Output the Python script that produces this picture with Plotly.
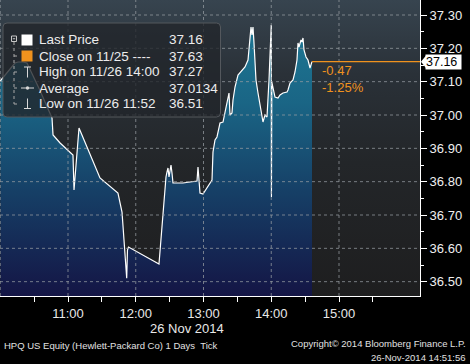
import plotly.graph_objects as go

# ---------------- data ----------------
DATE = "2014-11-26"
times = [
    "10:00:00", "10:06:00", "10:13:00", "10:15:45", "10:20:00", "10:23:40", "10:35:00",
    "10:45:50", "10:46:45", "10:53:00", "11:04:25", "11:05:20", "11:09:45", "11:28:20",
    "11:44:15", "11:47:50", "11:49:36", "11:52:00", "11:52:40", "11:53:35", "12:20:35",
    "12:24:08", "12:26:47", "12:27:41", "12:28:34", "12:29:27", "12:31:13", "12:32:06",
    "12:32:59", "12:41:51", "12:54:15", "12:55:08", "12:56:54", "12:59:33", "13:07:32",
    "13:08:25", "13:10:11", "13:11:57", "13:14:37", "13:17:16", "13:20:49", "13:22:35",
    "13:23:28", "13:25:14", "13:26:08", "13:27:54", "13:30:33", "13:34:06", "13:36:45",
    "13:39:25", "13:41:11", "13:42:04", "13:42:57", "13:43:50", "13:44:43", "13:45:37",
    "13:46:29", "13:48:16", "13:51:49", "13:52:41", "13:54:28", "13:56:14", "13:58:01",
    "14:00:00", "14:00:10", "14:00:30", "14:03:19", "14:05:59", "14:07:45", "14:10:25",
    "14:13:57", "14:14:50", "14:16:37", "14:19:16", "14:21:02", "14:22:48", "14:23:41",
    "14:24:35", "14:26:21", "14:27:14", "14:28:07", "14:29:00", "14:30:47", "14:32:33",
    "14:34:19", "14:36:05",
]
prices = [
    37.102, 37.126, 37.156, 37.159, 37.159, 37.156, 37.075,
    36.991, 36.940, 36.916, 36.880, 36.775, 36.961, 36.811,
    36.766, 36.709, 36.625, 36.510, 36.595, 36.604, 36.553,
    36.706, 36.814, 36.829, 36.841, 36.814, 36.850, 36.826,
    36.796, 36.796, 36.802, 36.844, 36.766, 36.763, 36.805,
    36.889, 36.925, 36.934, 36.976, 36.979, 37.036, 37.066,
    37.000, 37.006, 37.045, 37.084, 37.120, 37.135, 37.144,
    37.165, 37.225, 37.264, 37.240, 37.264, 37.216, 37.144,
    37.105, 37.066, 37.000, 36.979, 37.000, 36.994, 37.105,
    37.270, 36.754, 37.099, 37.054, 37.051, 37.060, 37.066,
    37.069, 37.075, 37.096, 37.105, 37.129, 37.165, 37.216,
    37.204, 37.225, 37.219, 37.231, 37.195, 37.174, 37.165,
    37.141, 37.160,
]
prev_close = 37.63

y_ticks = [36.5, 36.6, 36.7, 36.8, 36.9, 37.0, 37.1, 37.2, 37.3]
y_tick_labels = ["36.50", "36.60", "36.70", "36.80", "36.90", "37.00", "37.10", "37.20", "37.30"]
y_minor = [36.55, 36.65, 36.75, 36.85, 36.95, 37.05, 37.15, 37.25]
x_ticks = ["11:00", "12:00", "13:00", "14:00", "15:00"]
x_minor = ["10:30", "11:30", "12:30", "13:30", "14:30", "15:30"]
grid_hours = ["10:00", "11:00", "12:00", "13:00", "14:00", "15:00"]

legend_labels = ["Last Price", "Close on 11/25 ----", "High on 11/26 14:00", "Average", "Low on 11/26 11:52"]
legend_values = ["37.16", "37.63", "37.27", "37.0134", "36.51"]

date_label = "26 Nov 2014"
footer_left = "HPQ US Equity (Hewlett-Packard Co) 1 Days  Tick"
footer_right1 = "Copyright\u00a9 2014 Bloomberg Finance L.P."
footer_right2 = "26-Nov-2014 14:51:56"

# ---------------- layout helpers ----------------
W, H = 470, 364
ML, MR, MT, MB = 0, 50, 0, 68
PW, PH = W - ML - MR, H - MT - MB

def px(x):
    return (x - ML) / PW

def py(y):
    return 1 - (y - MT) / PH

x_vals = [f"{DATE} {t}" for t in times]
x_range = [f"{DATE} 09:59:47", f"{DATE} 16:11:44"]
y_range = [36.457, 37.345]
FONT = "Liberation Sans"

fig = go.Figure()

# background gradient of the plot area
fig.add_trace(go.Scatter(
    x=[x_range[0], x_range[1], x_range[1], x_range[0], x_range[0]],
    y=[y_range[0], y_range[0], y_range[1], y_range[1], y_range[0]],
    mode="none", fill="toself",
    fillgradient=dict(type="vertical",
                      colorscale=[[0, "#1e1e1f"], [0.45, "#232629"], [0.75, "#2a3138"], [1, "#37444f"]],
                      start=y_range[0], stop=y_range[1]),
    hoverinfo="skip", showlegend=False,
))

# baseline for the area fill
fig.add_trace(go.Scatter(
    x=[x_vals[0], x_vals[-1]], y=[y_range[0], y_range[0]],
    mode="lines", line=dict(width=0, color="rgba(0,0,0,0)"),
    hoverinfo="skip", showlegend=False,
))

# price line with gradient area
fig.add_trace(go.Scatter(
    x=x_vals, y=prices, mode="lines",
    line=dict(color="white", width=1.2),
    fill="tonexty",
    fillgradient=dict(type="vertical",
                      colorscale=[[0, "#141545"], [0.35, "#163f66"], [0.65, "#1a6585"], [1, "#1f7d98"]],
                      start=y_range[0], stop=y_range[1]),
    showlegend=False,
))

# grid lines (above the fills)
grid_line = dict(color="rgba(150,156,162,0.75)", width=1, dash="dot")
for v in y_ticks:
    fig.add_shape(type="line", xref="paper", yref="y", x0=0, x1=1, y0=v, y1=v,
                  line=grid_line, layer="above")
for h in grid_hours:
    fig.add_shape(type="line", xref="x", yref="paper", x0=f"{DATE} {h}", x1=f"{DATE} {h}",
                  y0=0, y1=1, line=grid_line, layer="above")

# last price line (orange)
ORANGE = "#f0921e"
fig.add_shape(type="line", xref="x", yref="y", x0=x_vals[-1], x1=x_range[1],
              y0=prices[-1], y1=prices[-1], line=dict(color=ORANGE, width=1.2), layer="above")

change = prices[-1] - prev_close
pct = change / prev_close * 100
fig.add_annotation(x=x_vals[-1], y=prices[-1], xref="x", yref="y", text=f"{change:.2f}",
                   showarrow=False, xanchor="left", yanchor="middle", xshift=8, yshift=-9,
                   font=dict(family=FONT, size=13, color=ORANGE))
fig.add_annotation(x=x_vals[-1], y=prices[-1], xref="x", yref="y", text=f"{pct:.2f}%",
                   showarrow=False, xanchor="left", yanchor="middle", xshift=8, yshift=-26,
                   font=dict(family=FONT, size=13, color=ORANGE))

# last-price tag on the axis
fig.add_annotation(x=1, y=prices[-1], xref="paper", yref="y", text=f"{prices[-1]:.2f} ",
                   showarrow=False, xanchor="left", yanchor="middle", xshift=5,
                   bgcolor="white", borderpad=0,
                   font=dict(family=FONT, size=12.5, color="black"))
fig.add_shape(type="path", xref="paper", yref="paper",
              path=f"M {px(421)},{py(61.7)} L {px(426)},{py(55.5)} L {px(426)},{py(67.9)} Z",
              fillcolor="white", line=dict(width=0), layer="above")

# ---------------- legend box ----------------
x0, x1, y0, y1, r = 3, 220.5, 23, 117, 4
rx, ry = r / PW, r / PH
X0, X1, Y0, Y1 = px(x0), px(x1), py(y0), py(y1)
path = (f"M {X0+rx},{Y0} L {X1-rx},{Y0} Q {X1},{Y0} {X1},{Y0-ry} "
        f"L {X1},{Y1+ry} Q {X1},{Y1} {X1-rx},{Y1} L {X0+rx},{Y1} Q {X0},{Y1} {X0},{Y1+ry} "
        f"L {X0},{Y0-ry} Q {X0},{Y0} {X0+rx},{Y0} Z")
fig.add_shape(type="path", xref="paper", yref="paper", path=path,
              fillcolor="rgba(34,38,43,0.8)", line=dict(color="#54585d", width=1), layer="above")

ICON = "#d8d8d8"
def seg(xa, ya, xb, yb, color=ICON, width=1, dash="solid"):
    fig.add_shape(type="line", xref="paper", yref="paper", x0=px(xa), y0=py(ya), x1=px(xb), y1=py(yb),
                  line=dict(color=color, width=width, dash=dash), layer="above")

def box(xa, ya, xb, yb, fill, line_color=None):
    fig.add_shape(type="rect", xref="paper", yref="paper", x0=px(xa), y0=py(ya), x1=px(xb), y1=py(yb),
                  fillcolor=fill, line=dict(color=line_color or fill, width=1 if line_color else 0),
                  layer="above")

row_y = [40, 56, 72, 88, 104]
# tree collapse icon and dotted tree
box(11.5, 36, 16.5, 41.5, "rgba(0,0,0,0)", "#c8c8c8")
seg(12.8, 38.75, 15.2, 38.75, "#c8c8c8")
seg(14, 42, 14, 104, "#a8a8a8", 1, "dot")
for yy in row_y[1:]:
    seg(14, yy, 19.5, yy, "#a8a8a8", 1, "dot")
# icons
box(21.5, 34.5, 32.5, 45.5, "white")
box(21.5, 50.5, 32.5, 61.5, ORANGE)
seg(24, 67, 31, 67)
seg(27.5, 67, 27.5, 77.5)
seg(21, 88, 34, 88)
fig.add_shape(type="circle", xref="paper", yref="paper", x0=px(25.8), y0=py(86.3), x1=px(29.2), y1=py(89.7),
              fillcolor=ICON, line=dict(width=0), layer="above")
seg(27.5, 98.5, 27.5, 108.5)
seg(24, 108.5, 31, 108.5)

for lab, val, yy in zip(legend_labels, legend_values, row_y):
    fig.add_annotation(x=px(37), y=py(yy), xref="paper", yref="paper", text=lab, showarrow=False,
                       xanchor="left", yanchor="middle",
                       font=dict(family=FONT, size=13.5, color="#ececec"))
    fig.add_annotation(x=px(166.5), y=py(yy), xref="paper", yref="paper", text=val, showarrow=False,
                       xanchor="left", yanchor="middle",
                       font=dict(family=FONT, size=13.5, color="#ececec"))

# ---------------- bottom texts ----------------
fig.add_annotation(x=px(187), y=py(328), xref="paper", yref="paper", text=date_label, showarrow=False,
                   xanchor="center", yanchor="middle", font=dict(family=FONT, size=13, color="#e8e8e8"))
fig.add_annotation(x=px(2), y=py(345), xref="paper", yref="paper", text=footer_left, showarrow=False,
                   xanchor="left", yanchor="middle", font=dict(family=FONT, size=9.5, color="#e0e0e0"))
fig.add_annotation(x=px(468), y=py(344), xref="paper", yref="paper", text=footer_right1, showarrow=False,
                   xanchor="right", yanchor="middle", font=dict(family=FONT, size=9.5, color="#e0e0e0"))
fig.add_annotation(x=px(468), y=py(357), xref="paper", yref="paper", text=footer_right2, showarrow=False,
                   xanchor="right", yanchor="middle", font=dict(family=FONT, size=9.5, color="#e0e0e0"))

# ---------------- axes ----------------
fig.update_layout(
    width=W, height=H,
    margin=dict(l=ML, r=MR, t=MT, b=MB, pad=0),
    paper_bgcolor="black", plot_bgcolor="#1e1e1f",
    showlegend=False,
    xaxis=dict(
        type="date", range=x_range, showgrid=False, zeroline=False,
        tickvals=[f"{DATE} {t}" for t in x_ticks], ticktext=x_ticks,
        showline=True, linecolor="white", linewidth=1,
        ticks="outside", ticklen=5, tickcolor="white", tickwidth=1,
        minor=dict(tickvals=[f"{DATE} {t}" for t in x_minor], ticks="outside", ticklen=5,
                   tickcolor="white", showgrid=False),
        tickfont=dict(family=FONT, size=13, color="#e8e8e8"),
        fixedrange=True,
    ),
    yaxis=dict(
        side="right", range=y_range, showgrid=False, zeroline=False,
        tickvals=y_ticks, ticktext=y_tick_labels,
        showline=True, linecolor="white", linewidth=1,
        ticks="outside", ticklen=6, tickcolor="white", tickwidth=1,
        minor=dict(tickvals=y_minor, ticks="outside", ticklen=3, tickcolor="white", showgrid=False),
        tickfont=dict(family=FONT, size=13, color="#f0f0f0"),
        fixedrange=True,
    ),
)

fig.write_html("out.html", config={"displayModeBar": False},
               post_script="document.body.style.margin='0';document.body.style.background='black';")
